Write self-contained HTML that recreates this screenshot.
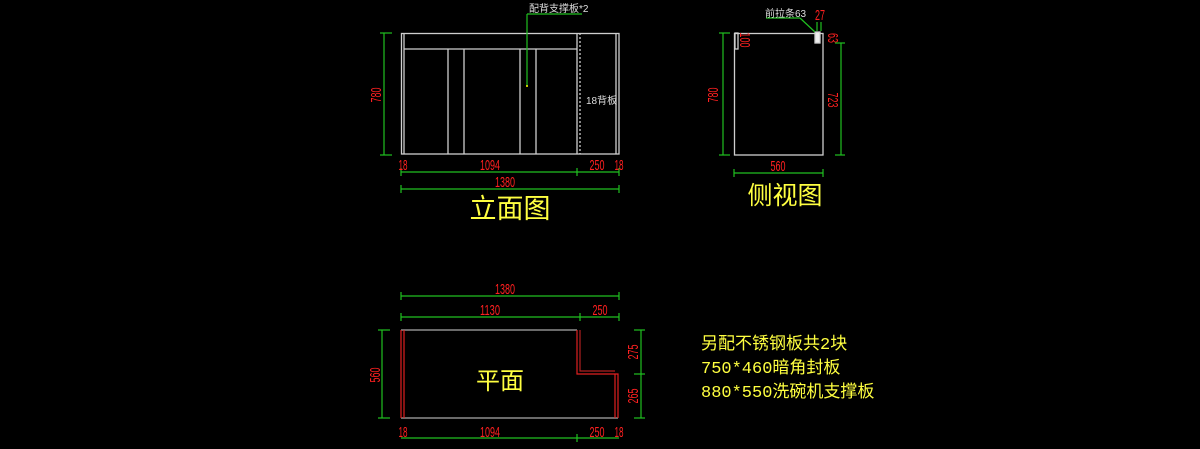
<!DOCTYPE html>
<html><head><meta charset="utf-8"><style>
html,body{margin:0;padding:0;background:#000;width:1200px;height:449px;overflow:hidden}
svg{display:block}
.r{fill:#ff2020;font-family:"Liberation Sans Narrow","Liberation Sans",sans-serif;font-size:15px}
.w{fill:#ddd;font-family:"Liberation Sans","Noto Sans CJK SC",sans-serif;font-size:10px}
.y{fill:#ffff40;font-family:"Liberation Mono","Noto Sans CJK SC",sans-serif}
</style></head><body>
<svg width="1200" height="449" viewBox="0 0 1200 449" xmlns="http://www.w3.org/2000/svg">
<g fill="none" stroke="#cfcfcf" stroke-width="1.3">
<rect x="401.5" y="33.5" width="217.5" height="120.5"/>
<line x1="404" y1="33" x2="404" y2="154"/>
<line x1="404" y1="49" x2="577" y2="49"/>
<line x1="448" y1="49" x2="448" y2="154"/>
<line x1="464" y1="49" x2="464" y2="154"/>
<line x1="520" y1="49" x2="520" y2="154"/>
<line x1="536" y1="49" x2="536" y2="154"/>
<line x1="577" y1="33" x2="577" y2="154"/>
<line x1="580" y1="33" x2="580" y2="154" stroke-dasharray="2,2"/>
<line x1="616" y1="33" x2="616" y2="154"/>
<rect x="734.5" y="33.5" width="88.5" height="121.5"/>
<rect x="735" y="33" width="3" height="16"/>
<rect x="815" y="32" width="5" height="11" fill="#eee"/>
<polyline points="401,330 577,330" stroke="#aaa"/>
<polyline points="401,418 618,418" stroke="#aaa"/>
</g>
<g fill="none" stroke="#e02020" stroke-width="1.2">
<line x1="401" y1="330" x2="401" y2="418"/><line x1="404" y1="330" x2="404" y2="418"/>
<polyline points="577,330 577,374 618,374 618,418"/>
<polyline points="580,330 580,371 615,371" stroke="#b02020"/>
<line x1="615" y1="374" x2="615" y2="418"/>
</g>
<g stroke="#20c020" stroke-width="1.2" fill="none">
<line x1="384" y1="33" x2="384" y2="155"/><line x1="380" y1="33" x2="392" y2="33"/><line x1="380" y1="155" x2="392" y2="155"/>
<line x1="401" y1="172" x2="619" y2="172"/><line x1="577" y1="168" x2="577" y2="176"/><line x1="401" y1="168" x2="401" y2="176"/><line x1="619" y1="168" x2="619" y2="176"/>
<line x1="401" y1="189" x2="619" y2="189"/><line x1="401" y1="185" x2="401" y2="193"/><line x1="619" y1="185" x2="619" y2="193"/>
<line x1="527" y1="14" x2="527" y2="86"/><line x1="527" y1="14" x2="582" y2="14"/>
<line x1="723" y1="33" x2="723" y2="155"/><line x1="719" y1="33" x2="730" y2="33"/><line x1="719" y1="155" x2="730" y2="155"/>
<line x1="841" y1="43" x2="841" y2="155"/><line x1="835" y1="43" x2="845" y2="43"/><line x1="835" y1="155" x2="845" y2="155"/>
<line x1="734" y1="173" x2="823" y2="173"/><line x1="734" y1="169" x2="734" y2="177"/><line x1="823" y1="169" x2="823" y2="177"/>
<line x1="766" y1="18" x2="800" y2="18"/><line x1="800" y1="18" x2="815" y2="32"/>
<line x1="817" y1="22" x2="817" y2="31"/><line x1="821" y1="22" x2="821" y2="31"/>
<line x1="401" y1="296" x2="619" y2="296"/><line x1="401" y1="292" x2="401" y2="300"/><line x1="619" y1="292" x2="619" y2="300"/>
<line x1="401" y1="317" x2="619" y2="317"/><line x1="401" y1="313" x2="401" y2="321"/><line x1="580" y1="313" x2="580" y2="321"/><line x1="619" y1="313" x2="619" y2="321"/>
<line x1="382" y1="330" x2="382" y2="418"/><line x1="378" y1="330" x2="390" y2="330"/><line x1="378" y1="418" x2="390" y2="418"/>
<line x1="641" y1="330" x2="641" y2="418"/><line x1="634" y1="330" x2="645" y2="330"/><line x1="634" y1="374" x2="645" y2="374"/><line x1="634" y1="418" x2="645" y2="418"/>
<line x1="401" y1="438" x2="619" y2="438"/><line x1="577" y1="434" x2="577" y2="442"/>
</g>
<g class="r" lengthAdjust="spacingAndGlyphs">
<text x="376" y="95" text-anchor="middle" transform="rotate(-90 376 95)" textLength="15" lengthAdjust="spacingAndGlyphs" dy="5">780</text>
<text x="403" y="170" text-anchor="middle" textLength="9" lengthAdjust="spacingAndGlyphs">18</text>
<text x="490" y="170" text-anchor="middle" textLength="20" lengthAdjust="spacingAndGlyphs">1094</text>
<text x="597" y="170" text-anchor="middle" textLength="15" lengthAdjust="spacingAndGlyphs">250</text>
<text x="619" y="170" text-anchor="middle" textLength="9" lengthAdjust="spacingAndGlyphs">18</text>
<text x="505" y="187" text-anchor="middle" textLength="20" lengthAdjust="spacingAndGlyphs">1380</text>
<text x="713" y="95" text-anchor="middle" transform="rotate(-90 713 95)" textLength="15" lengthAdjust="spacingAndGlyphs" dy="5">780</text>
<text x="745" y="40" text-anchor="middle" transform="rotate(90 745 40)" textLength="15" lengthAdjust="spacingAndGlyphs" dy="5">100</text>
<text x="820" y="20" text-anchor="middle" textLength="10" lengthAdjust="spacingAndGlyphs">27</text>
<text x="833" y="38" text-anchor="middle" transform="rotate(90 833 38)" textLength="10" lengthAdjust="spacingAndGlyphs" dy="5">63</text>
<text x="833" y="100" text-anchor="middle" transform="rotate(90 833 100)" textLength="15" lengthAdjust="spacingAndGlyphs" dy="5">723</text>
<text x="778" y="171" text-anchor="middle" textLength="15" lengthAdjust="spacingAndGlyphs">560</text>
<text x="505" y="294" text-anchor="middle" textLength="20" lengthAdjust="spacingAndGlyphs">1380</text>
<text x="490" y="315" text-anchor="middle" textLength="20" lengthAdjust="spacingAndGlyphs">1130</text>
<text x="600" y="315" text-anchor="middle" textLength="15" lengthAdjust="spacingAndGlyphs">250</text>
<text x="375" y="375" text-anchor="middle" transform="rotate(-90 375 375)" textLength="15" lengthAdjust="spacingAndGlyphs" dy="5">560</text>
<text x="633" y="352" text-anchor="middle" transform="rotate(-90 633 352)" textLength="15" lengthAdjust="spacingAndGlyphs" dy="5">275</text>
<text x="633" y="396" text-anchor="middle" transform="rotate(-90 633 396)" textLength="15" lengthAdjust="spacingAndGlyphs" dy="5">265</text>
<text x="403" y="437" text-anchor="middle" textLength="9" lengthAdjust="spacingAndGlyphs">18</text>
<text x="490" y="437" text-anchor="middle" textLength="20" lengthAdjust="spacingAndGlyphs">1094</text>
<text x="597" y="437" text-anchor="middle" textLength="15" lengthAdjust="spacingAndGlyphs">250</text>
<text x="619" y="437" text-anchor="middle" textLength="9" lengthAdjust="spacingAndGlyphs">18</text>
</g>
<g class="w">
<text x="529" y="12">配背支撑板*2</text>
<text x="586" y="104">18背板</text>
<text x="765" y="17">前拉条63</text>
</g>
<circle cx="527" cy="86" r="1" fill="#ff0"/>
<g class="y">
<text x="510" y="218" text-anchor="middle" font-size="27">立面图</text>
<text x="785" y="204" text-anchor="middle" font-size="25">侧视图</text>
<text x="500" y="389" text-anchor="middle" font-size="24">平面</text>
<text x="701" y="349" font-size="17">另配不锈钢板共2块</text>
<text x="701" y="373" font-size="17">750*460暗角封板</text>
<text x="701" y="397" font-size="17">880*550洗碗机支撑板</text>
</g>
</svg>
</body></html>
